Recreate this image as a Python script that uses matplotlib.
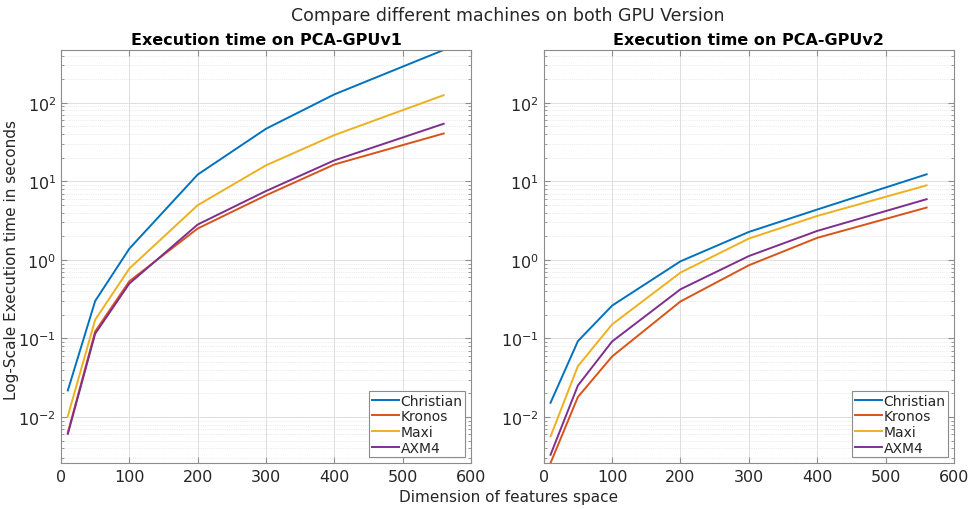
import matplotlib
matplotlib.use("Agg")
import matplotlib.pyplot as plt
from matplotlib.ticker import LogLocator, NullFormatter

plt.rcParams["axes.unicode_minus"] = False

# feature-space dimension (x) and per-machine execution times in seconds
dims = [10, 50, 100, 200, 300, 400, 560]
machines = ["Christian", "Kronos", "Maxi", "AXM4"]

v1_christian = [0.0218, 0.30, 1.39, 12.2, 46.7, 128, 470]
v1_kronos = [0.0063, 0.123, 0.535, 2.51, 6.64, 16.4, 40.7]
v1_maxi = [0.0103, 0.173, 0.776, 4.97, 16.0, 38.8, 125]
v1_axm4 = [0.0061, 0.115, 0.50, 2.82, 7.53, 18.5, 54.1]

v2_christian = [0.0152, 0.0925, 0.262, 0.96, 2.27, 4.38, 12.3]
v2_kronos = [0.0026, 0.018, 0.059, 0.296, 0.855, 1.91, 4.64]
v2_maxi = [0.00567, 0.0444, 0.151, 0.69, 1.87, 3.63, 8.9]
v2_axm4 = [0.00331, 0.0252, 0.0916, 0.423, 1.12, 2.34, 5.93]

titles = ["Execution time on PCA-GPUv1", "Execution time on PCA-GPUv2"]
colors = ["#0072BD", "#D95319", "#EDB120", "#7E2F8E"]
TXT = "#262626"
EDGE = "#8c8c8c"

fig = plt.figure(figsize=(9.69, 5.10), dpi=100)
ax1 = fig.add_axes([61 / 969, 46 / 510, 410 / 969, 413 / 510])
ax2 = fig.add_axes([543.7 / 969, 46 / 510, 410.3 / 969, 413 / 510])

series = [
    (ax1, [v1_christian, v1_kronos, v1_maxi, v1_axm4], titles[0]),
    (ax2, [v2_christian, v2_kronos, v2_maxi, v2_axm4], titles[1]),
]

ymin = min(min(v) for v in [v2_kronos, v1_axm4])
ymax = max(v1_christian)

for ax, data, title in series:
    for name, vals, c in zip(machines, data, colors):
        ax.plot(dims, vals, color=c, lw=1.4, label=name)
    ax.set_yscale("log")
    ax.set_xlim(0, 600)
    ax.set_ylim(ymin, ymax)
    ax.set_xticks(range(0, 601, 100))
    ax.yaxis.set_major_locator(LogLocator(base=10, numticks=10))
    ax.yaxis.set_minor_locator(LogLocator(base=10, subs=range(2, 10), numticks=20))
    ax.yaxis.set_minor_formatter(NullFormatter())
    ax.grid(which="major", color="#dedede", lw=0.7)
    ax.grid(which="minor", axis="y", color="#dadada", lw=0.5, ls=":")
    ax.set_axisbelow(True)
    ax.tick_params(which="both", direction="in", top=True, right=True,
                   colors=EDGE, labelcolor=TXT, labelsize=11.5)
    ax.tick_params(axis="x", pad=4)
    ax.tick_params(which="major", length=4)
    ax.tick_params(which="minor", length=2)
    for s in ax.spines.values():
        s.set_color(EDGE)
        s.set_linewidth(0.8)
    ax.set_title(title, fontsize=11.5, fontweight="bold", pad=4)
    leg = ax.legend(loc="lower right", fontsize=10, handlelength=2.0,
                    handletextpad=0.1, borderpad=0.2, labelspacing=0.12,
                    borderaxespad=0.4, fancybox=False, framealpha=1)
    leg.get_frame().set_edgecolor(EDGE)
    leg.get_frame().set_linewidth(0.8)
    for t in leg.get_texts():
        t.set_color(TXT)

fig.text(12 / 969, 0.49, "Log-Scale Execution time in seconds", rotation=90,
         ha="center", va="center", fontsize=11, color=TXT)
fig.text(0.5245, 0.025, "Dimension of features space", ha="center", va="center",
         fontsize=11, color=TXT)
fig.text(0.5245, 0.968, "Compare different machines on both GPU Version", ha="center",
         va="center", fontsize=12.5, color=TXT)

fig.savefig("out.png", dpi=100)
